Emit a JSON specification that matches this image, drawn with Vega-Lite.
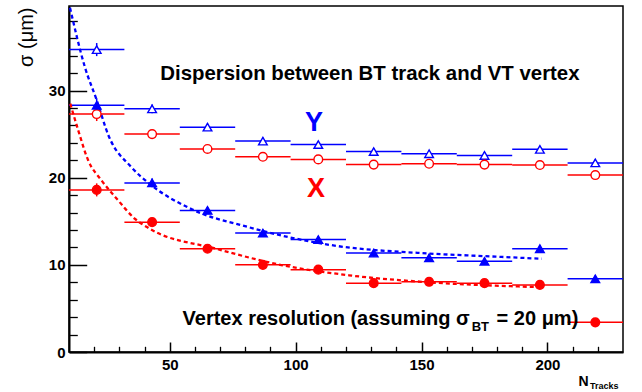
{
  "$schema": "https://vega.github.io/schema/vega-lite/v6.json",
  "width": 554,
  "height": 346,
  "autosize": "none",
  "padding": {"left": 69, "top": 6, "right": 19, "bottom": 40},
  "background": "white",
  "config": {
    "font": "Liberation Sans",
    "view": {"stroke": "black", "strokeWidth": 1.5},
    "axis": {"grid": false}
  },
  "datasets": {
    "pts": [
      {"series": "Ydisp", "n": 21, "lo": 10, "hi": 32, "s": 34.7, "e": 0.75},
      {"series": "Ydisp", "n": 43, "lo": 32, "hi": 54, "s": 27.9, "e": 0.5},
      {"series": "Ydisp", "n": 65, "lo": 54, "hi": 76, "s": 25.8, "e": 0.4},
      {"series": "Ydisp", "n": 87, "lo": 76, "hi": 98, "s": 24.2, "e": 0.4},
      {"series": "Ydisp", "n": 109, "lo": 98, "hi": 120, "s": 23.8, "e": 0.4},
      {"series": "Ydisp", "n": 131, "lo": 120, "hi": 142, "s": 23.0, "e": 0.4},
      {"series": "Ydisp", "n": 153, "lo": 142, "hi": 164, "s": 22.75, "e": 0.4},
      {"series": "Ydisp", "n": 175, "lo": 164, "hi": 186, "s": 22.55, "e": 0.4},
      {"series": "Ydisp", "n": 197, "lo": 186, "hi": 208, "s": 23.25, "e": 0.4},
      {"series": "Ydisp", "n": 219, "lo": 208, "hi": 230, "s": 21.7, "e": 0.4},
      {"series": "Xdisp", "n": 21, "lo": 10, "hi": 32, "s": 27.3, "e": 0.8},
      {"series": "Xdisp", "n": 43, "lo": 32, "hi": 54, "s": 25.0, "e": 0.5},
      {"series": "Xdisp", "n": 65, "lo": 54, "hi": 76, "s": 23.3, "e": 0.4},
      {"series": "Xdisp", "n": 87, "lo": 76, "hi": 98, "s": 22.4, "e": 0.4},
      {"series": "Xdisp", "n": 109, "lo": 98, "hi": 120, "s": 22.1, "e": 0.4},
      {"series": "Xdisp", "n": 131, "lo": 120, "hi": 142, "s": 21.5, "e": 0.4},
      {"series": "Xdisp", "n": 153, "lo": 142, "hi": 164, "s": 21.6, "e": 0.4},
      {"series": "Xdisp", "n": 175, "lo": 164, "hi": 186, "s": 21.5, "e": 0.4},
      {"series": "Xdisp", "n": 197, "lo": 186, "hi": 208, "s": 21.45, "e": 0.4},
      {"series": "Xdisp", "n": 219, "lo": 208, "hi": 230, "s": 20.3, "e": 0.4},
      {"series": "Yres", "n": 21, "lo": 10, "hi": 32, "s": 28.3, "e": 0.8},
      {"series": "Yres", "n": 43, "lo": 32, "hi": 54, "s": 19.4, "e": 0.5},
      {"series": "Yres", "n": 65, "lo": 54, "hi": 76, "s": 16.25, "e": 0.4},
      {"series": "Yres", "n": 87, "lo": 76, "hi": 98, "s": 13.65, "e": 0.4},
      {"series": "Yres", "n": 109, "lo": 98, "hi": 120, "s": 12.9, "e": 0.4},
      {"series": "Yres", "n": 131, "lo": 120, "hi": 142, "s": 11.35, "e": 0.4},
      {"series": "Yres", "n": 153, "lo": 142, "hi": 164, "s": 10.8, "e": 0.4},
      {"series": "Yres", "n": 175, "lo": 164, "hi": 186, "s": 10.4, "e": 0.4},
      {"series": "Yres", "n": 197, "lo": 186, "hi": 208, "s": 11.85, "e": 0.4},
      {"series": "Yres", "n": 219, "lo": 208, "hi": 230, "s": 8.4, "e": 0.4},
      {"series": "Xres", "n": 21, "lo": 10, "hi": 32, "s": 18.6, "e": 0.75},
      {"series": "Xres", "n": 43, "lo": 32, "hi": 54, "s": 14.9, "e": 0.5},
      {"series": "Xres", "n": 65, "lo": 54, "hi": 76, "s": 11.85, "e": 0.4},
      {"series": "Xres", "n": 87, "lo": 76, "hi": 98, "s": 10.0, "e": 0.4},
      {"series": "Xres", "n": 109, "lo": 98, "hi": 120, "s": 9.45, "e": 0.4},
      {"series": "Xres", "n": 131, "lo": 120, "hi": 142, "s": 7.9, "e": 0.4},
      {"series": "Xres", "n": 153, "lo": 142, "hi": 164, "s": 8.05, "e": 0.4},
      {"series": "Xres", "n": 175, "lo": 164, "hi": 186, "s": 7.9, "e": 0.4},
      {"series": "Xres", "n": 197, "lo": 186, "hi": 208, "s": 7.7, "e": 0.4},
      {"series": "Xres", "n": 219, "lo": 208, "hi": 230, "s": 3.4, "e": 0.4}
    ],
    "fit": [
      {"series": "Yfit", "n": 10.4, "s": 39.5},
      {"series": "Yfit", "n": 16.3, "s": 32.7},
      {"series": "Yfit", "n": 21, "s": 28.9},
      {"series": "Yfit", "n": 25.6, "s": 24.9},
      {"series": "Yfit", "n": 34.8, "s": 21.2},
      {"series": "Yfit", "n": 42, "s": 19.3},
      {"series": "Yfit", "n": 58.6, "s": 16.4},
      {"series": "Yfit", "n": 81.6, "s": 14.3},
      {"series": "Yfit", "n": 113.3, "s": 12.3},
      {"series": "Yfit", "n": 153, "s": 11.3},
      {"series": "Yfit", "n": 175, "s": 11.0},
      {"series": "Yfit", "n": 197.7, "s": 10.7},
      {"series": "Xfit", "n": 10.5, "s": 28.5},
      {"series": "Xfit", "n": 13.7, "s": 25.4},
      {"series": "Xfit", "n": 17.6, "s": 22.0},
      {"series": "Xfit", "n": 22.9, "s": 19.7},
      {"series": "Xfit", "n": 29.5, "s": 17.4},
      {"series": "Xfit", "n": 36.1, "s": 15.3},
      {"series": "Xfit", "n": 42, "s": 14.15},
      {"series": "Xfit", "n": 68.4, "s": 11.85},
      {"series": "Xfit", "n": 94.8, "s": 9.95},
      {"series": "Xfit", "n": 121.2, "s": 8.8},
      {"series": "Xfit", "n": 152.9, "s": 8.0},
      {"series": "Xfit", "n": 196, "s": 7.45}
    ],
    "one": [{}]
  },
  "resolve": {"axis": {"x": "independent", "y": "independent"}},
  "layer": [
    {
      "data": {"name": "pts"},
      "mark": {"type": "rule", "strokeWidth": 1.5},
      "encoding": {
        "x": {
          "field": "lo", "type": "quantitative",
          "scale": {"domain": [10, 230], "nice": false, "zero": false},
          "axis": {
            "orient": "bottom", "values": [50, 100, 150, 200],
            "tickSize": -10, "tickWidth": 1.5, "tickColor": "black",
            "domainColor": "black", "domainWidth": 2,
            "labelFont": "Liberation Sans", "labelFontWeight": "bold", "labelFontSize": 15,
            "labelColor": "black", "labelPadding": 15, "labelFlush": false, "labelOverlap": false,
            "title": "N", "titleFont": "Liberation Sans", "titleFontSize": 14, "titleFontWeight": "bold",
            "titleColor": "black", "titleX": 514, "titleY": 33.5, "titleAlign": "center", "titleBaseline": "alphabetic"
          }
        },
        "x2": {"field": "hi"},
        "y": {
          "field": "s", "type": "quantitative",
          "scale": {"domain": [0, 39.7], "nice": false, "zero": false},
          "axis": {
            "orient": "left", "values": [0, 10, 20, 30],
            "tickSize": -17.7, "tickWidth": 1.5, "tickColor": "black",
            "domainColor": "black", "domainWidth": 2,
            "labelFont": "Liberation Sans", "labelFontWeight": "bold", "labelFontSize": 15,
            "labelColor": "black", "labelPadding": 21.7, "labelBaseline": "middle", "labelFlush": false, "labelOverlap": false,
            "title": "σ (μm)", "titleFont": "Liberation Sans", "titleFontSize": 20, "titleFontWeight": "normal",
            "titleColor": "black", "titleAngle": -90, "titleX": -43, "titleY": 1, "titleAlign": "right", "titleBaseline": "middle"
          }
        },
        "color": {
          "field": "series", "type": "nominal",
          "scale": {"domain": ["Ydisp", "Xdisp", "Yres", "Xres", "Yfit", "Xfit"], "range": ["#0000ff", "#ff0000", "#0000ff", "#ff0000", "#0000ff", "#ff0000"]},
          "legend": null
        }
      }
    },
    {
      "data": {"name": "fit"},
      "mark": {"type": "line", "strokeDash": [4, 3], "strokeWidth": 2.3, "interpolate": "monotone"},
      "encoding": {
        "x": {
          "field": "n", "type": "quantitative",
          "axis": {
            "orient": "bottom", "values": [20, 30, 40, 60, 70, 80, 90, 110, 120, 130, 140, 160, 170, 180, 190, 210, 220],
            "tickSize": -5.7, "tickWidth": 1.3, "tickColor": "black", "labels": false, "domain": false, "title": null
          }
        },
        "y": {
          "field": "s", "type": "quantitative",
          "axis": {
            "orient": "left", "values": [2, 4, 6, 8, 12, 14, 16, 18, 22, 24, 26, 28, 32, 34, 36, 38],
            "tickSize": -8.3, "tickWidth": 1.3, "tickColor": "black", "labels": false, "domain": false, "title": null
          }
        },
        "color": {"field": "series", "type": "nominal", "legend": null}
      }
    },
    {
      "data": {"name": "pts"},
      "mark": {"type": "errorbar", "rule": {"strokeWidth": 1.5}},
      "encoding": {
        "x": {"field": "n", "type": "quantitative", "axis": null},
        "y": {"field": "s", "type": "quantitative", "axis": null},
        "yError": {"field": "e"},
        "color": {"field": "series", "type": "nominal", "legend": null}
      }
    },
    {
      "data": {"name": "pts"},
      "mark": {"type": "point", "filled": true, "size": 75, "strokeWidth": 1.4, "opacity": 1},
      "encoding": {
        "x": {"field": "n", "type": "quantitative", "axis": null},
        "y": {"field": "s", "type": "quantitative", "axis": null},
        "shape": {"field": "series", "type": "nominal", "scale": {"domain": ["Ydisp", "Xdisp", "Yres", "Xres"], "range": ["triangle-up", "circle", "triangle-up", "circle"]}, "legend": null},
        "fill": {"field": "series", "type": "nominal", "scale": {"domain": ["Ydisp", "Xdisp", "Yres", "Xres"], "range": ["white", "white", "#0000ff", "#ff0000"]}, "legend": null},
        "stroke": {"field": "series", "type": "nominal", "scale": {"domain": ["Ydisp", "Xdisp", "Yres", "Xres"], "range": ["#0000ff", "#ff0000", "#0000ff", "#ff0000"]}, "legend": null}
      }
    },
    {
      "data": {"name": "one"},
      "mark": {"type": "text", "font": "Liberation Sans", "fontWeight": "bold", "fontSize": 20.4, "align": "center", "baseline": "alphabetic", "color": "black"},
      "encoding": {
        "x": {"datum": 129.5, "type": "quantitative", "axis": null},
        "y": {"datum": 31.2, "type": "quantitative", "axis": null},
        "text": {"value": "Dispersion between BT track and VT vertex"}
      }
    },
    {
      "data": {"name": "one"},
      "mark": {"type": "text", "font": "Liberation Sans", "fontWeight": "bold", "fontSize": 27, "align": "center", "baseline": "alphabetic", "color": "#0000ff"},
      "encoding": {
        "x": {"datum": 107.3, "type": "quantitative", "axis": null},
        "y": {"datum": 25.4, "type": "quantitative", "axis": null},
        "text": {"value": "Y"}
      }
    },
    {
      "data": {"name": "one"},
      "mark": {"type": "text", "font": "Liberation Sans", "fontWeight": "bold", "fontSize": 27, "align": "center", "baseline": "alphabetic", "color": "#ff0000"},
      "encoding": {
        "x": {"datum": 108.1, "type": "quantitative", "axis": null},
        "y": {"datum": 17.8, "type": "quantitative", "axis": null},
        "text": {"value": "X"}
      }
    },
    {
      "data": {"name": "one"},
      "mark": {"type": "text", "font": "Liberation Sans", "fontWeight": "bold", "fontSize": 20, "align": "left", "baseline": "alphabetic", "color": "black"},
      "encoding": {
        "x": {"datum": 55.1, "type": "quantitative", "axis": null},
        "y": {"datum": 3.06, "type": "quantitative", "axis": null},
        "text": {"value": "Vertex resolution (assuming σ"}
      }
    },
    {
      "data": {"name": "one"},
      "mark": {"type": "text", "font": "Liberation Sans", "fontWeight": "bold", "fontSize": 13, "align": "left", "baseline": "alphabetic", "color": "black"},
      "encoding": {
        "x": {"datum": 169.9, "type": "quantitative", "axis": null},
        "y": {"datum": 2.45, "type": "quantitative", "axis": null},
        "text": {"value": "BT"}
      }
    },
    {
      "data": {"name": "one"},
      "mark": {"type": "text", "font": "Liberation Sans", "fontWeight": "bold", "fontSize": 20, "align": "left", "baseline": "alphabetic", "color": "black"},
      "encoding": {
        "x": {"datum": 179.8, "type": "quantitative", "axis": null},
        "y": {"datum": 3.06, "type": "quantitative", "axis": null},
        "text": {"value": "= 20 μm)"}
      }
    },
    {
      "data": {"name": "one"},
      "mark": {"type": "text", "font": "Liberation Sans", "fontWeight": "bold", "fontSize": 9, "align": "left", "baseline": "alphabetic", "color": "black"},
      "encoding": {
        "x": {"datum": 216.9, "type": "quantitative", "axis": null},
        "y": {"datum": -4.22, "type": "quantitative", "axis": null},
        "text": {"value": "Tracks"}
      }
    }
  ]
}
